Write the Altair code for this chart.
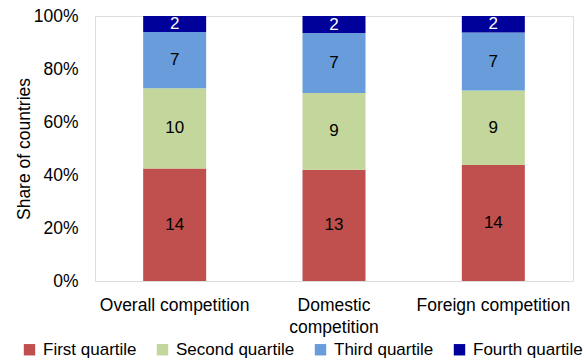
import altair as alt
import pandas as pd

categories = ["Overall competition", "Domestic competition", "Foreign competition"]
quartiles = ["First quartile", "Second quartile", "Third quartile", "Fourth quartile"]
first_q = [14, 13, 14]
second_q = [10, 9, 9]
third_q = [7, 7, 7]
fourth_q = [2, 2, 2]
colors = ["#C0504D", "#C3D69B", "#689CDA", "#00009A"]

series = [first_q, second_q, third_q, fourth_q]
rows = []
for qi, (q, vals) in enumerate(zip(quartiles, series)):
    for c, v in zip(categories, vals):
        rows.append({"category": c, "quartile": q, "order": qi, "count": v})
df = pd.DataFrame(rows)

FONT = "Liberation Sans, Arial, sans-serif"

base = alt.Chart(df).transform_stack(
    stack="count", as_=["y0", "y1"], groupby=["category"],
    sort=[alt.SortField("order")], offset="normalize"
).transform_calculate(mid="(datum.y0 + datum.y1) / 2")

xenc = alt.X(
    "category:N", sort=categories, title=None,
    scale=alt.Scale(paddingInner=0, paddingOuter=0),
    axis=alt.Axis(
        labelAngle=0, ticks=False, domain=False, labelPadding=15,
        labelFontSize=17.5, labelFont=FONT, labelColor="#000000",
        labelLimit=300, labelLineHeight=22,
        labelExpr="datum.label == 'Domestic competition' ? ['Domestic', 'competition'] : datum.label",
    ),
)

bars = base.mark_bar(size=63).encode(
    x=xenc,
    y=alt.Y(
        "y0:Q", scale=alt.Scale(domain=[0, 1], nice=False),
        axis=alt.Axis(
            values=[0, 0.2, 0.4, 0.6, 0.8, 1.0], format=".0%", grid=False,
            ticks=False, domain=False, labelPadding=17,
            labelFontSize=17.5, labelFont=FONT, labelColor="#000000",
            title="Share of countries", titleFontSize=17.5, titleFont=FONT,
            titleFontWeight="normal", titleColor="#000000", titlePadding=0,
        ),
    ),
    y2="y1:Q",
    color=alt.Color(
        "quartile:N", sort=quartiles,
        scale=alt.Scale(domain=quartiles, range=colors),
        legend=alt.Legend(
            title=None, orient="none", direction="horizontal",
            legendX=-74, legendY=325, symbolType="square", symbolSize=130,
            symbolStrokeWidth=0, labelFontSize=17, labelFont=FONT,
            labelColor="#000000", columnPadding=17, labelOffset=5,
            labelLimit=200,
        ),
    ),
    order=alt.Order("order:Q"),
)

text = base.mark_text(font=FONT, fontSize=17, baseline="middle").encode(
    x=alt.X("category:N", sort=categories),
    y=alt.Y("mid:Q"),
    text=alt.Text("count:Q"),
    color=alt.condition("datum.quartile == 'Fourth quartile'", alt.value("#FFFFFF"), alt.value("#000000")),
)

chart = alt.layer(bars, text).properties(
    width=478, height=265,
    autosize=alt.AutoSizeParams(type="none"),
    padding={"left": 95, "top": 16, "right": 11, "bottom": 81},
).configure_view(stroke="#B8B8B8", strokeWidth=1.5).configure(background="white")

chart.save("out.html", embed_options={"renderer": "svg", "actions": False})
